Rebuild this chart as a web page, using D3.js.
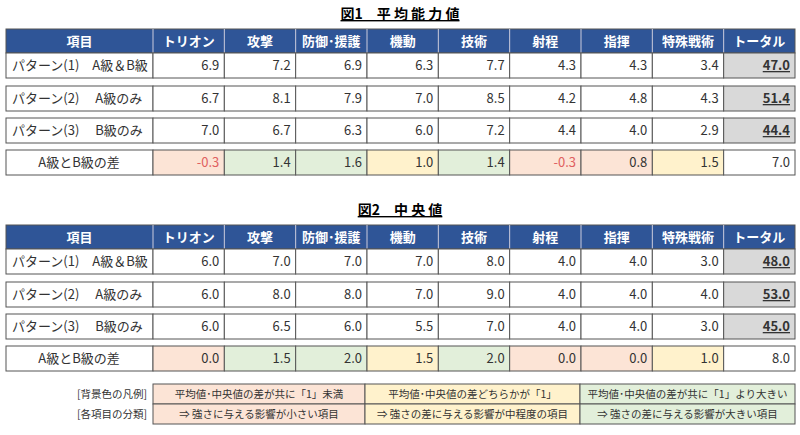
<!DOCTYPE html><html><head><meta charset="utf-8"><script src="https://cdn.jsdelivr.net/npm/d3@7"></script>
<style>body{margin:0;background:#fff}text{font-family:"Noto Sans CJK JP",sans-serif}</style></head><body><svg id="c" width="800" height="435"></svg>
<script>
const headers=["項目","トリオン","攻撃","防御･援護","機動","技術","射程","指揮","特殊戦術","トータル"];
const rowLabels=["パターン(1)　A級＆B級","パターン(2)　 A級のみ","パターン(3)　 B級のみ","A級とB級の差"];
const mean1=[6.9,7.2,6.9,6.3,7.7,4.3,4.3,3.4,47.0];
const mean2=[6.7,8.1,7.9,7.0,8.5,4.2,4.8,4.3,51.4];
const mean3=[7.0,6.7,6.3,6.0,7.2,4.4,4.0,2.9,44.4];
const meanD=[-0.3,1.4,1.6,1.0,1.4,-0.3,0.8,1.5,7.0];
const med1=[6.0,7.0,7.0,7.0,8.0,4.0,4.0,3.0,48.0];
const med2=[6.0,8.0,8.0,7.0,9.0,4.0,4.0,4.0,53.0];
const med3=[6.0,6.5,6.0,5.5,7.0,4.0,4.0,3.0,45.0];
const medD=[0.0,1.5,2.0,1.5,2.0,0.0,0.0,1.0,8.0];
const colClass=["p","g","g","y","g","p","p","y",null];
const legendLabels=["[背景色の凡例]","[各項目の分類]"];
const legend1=["平均値･中央値の差が共に「1」未満","平均値･中央値の差どちらかが「1」","平均値･中央値の差が共に「1」より大きい"];
const legend2=["⇒ 強さに与える影響が小さい項目","⇒ 強さの差に与える影響が中程度の項目","⇒ 強さの差に与える影響が大きい項目"];
const fills={p:"#FCE4D6",y:"#FFF2CC",g:"#E2EFDA"};
const svg=d3.select("#c");
const x=d3.scaleLinear().domain([0,9]).range([153,795]);
const border="#555";
function table(title,ty,top,rows){
  svg.append("text").attr("x",400).attr("y",ty).attr("text-anchor","middle").attr("font-size",14).attr("font-weight","bold").attr("text-decoration","underline").text(title);
  // header
  const h=24;
  svg.append("rect").attr("x",6).attr("y",top).attr("width",789).attr("height",h).attr("fill","#2F5597").attr("stroke",border);
  headers.forEach((t,i)=>{
    const x0=i==0?6:x(i-1), x1=i==0?153:x(i);
    if(i>0) svg.append("line").attr("x1",x0).attr("x2",x0).attr("y1",top).attr("y2",top+h).attr("stroke","#ccd");
    svg.append("text").attr("x",(x0+x1)/2).attr("y",top+17).attr("text-anchor","middle").attr("fill","#fff").attr("font-size",13).attr("font-weight","bold").text(t);
  });
  const offs=[h,h+33,h+65,h+97];
  rows.forEach((vals,r)=>{
    const y0=top+offs[r], rh=25;
    svg.append("rect").attr("x",6).attr("y",y0).attr("width",147).attr("height",rh).attr("fill","#fff").attr("stroke",border);
    svg.append("text").attr("x",r==3?79:12).attr("y",y0+17).attr("text-anchor",r==3?"middle":"start").attr("font-size",13).attr("fill","#333").text(rowLabels[r]);
    vals.forEach((v,i)=>{
      let f="#fff";
      if(i==8&&r<3) f="#D9D9D9";
      if(r==3&&colClass[i]) f=fills[colClass[i]];
      svg.append("rect").attr("x",x(i)).attr("y",y0).attr("width",x(i+1)-x(i)).attr("height",rh).attr("fill",f).attr("stroke",border);
      svg.append("text").attr("x",x(i+1)-5).attr("y",y0+17).attr("text-anchor","end").attr("font-size",13)
        .attr("fill",v<0?"#E06060":"#333").attr("font-weight",i==8&&r<3?"bold":"normal")
        .attr("text-decoration",i==8&&r<3?"underline":"none").text(v.toFixed(1));
    });
  });
}
table("図1　平 均 能 力 値",19,29,[mean1,mean2,mean3,meanD]);
table("図2　中 央 値",215,225,[med1,med2,med3,medD]);
const lx=[153,365,580,795], lc=["p","y","g"];
[legend1,legend2].forEach((arr,r)=>{
  const y0=384+r*20;
  svg.append("text").attr("x",147).attr("y",y0+14).attr("text-anchor","end").attr("font-size",10.5).attr("fill","#333").text(legendLabels[r]);
  arr.forEach((t,i)=>{
    svg.append("rect").attr("x",lx[i]).attr("y",y0).attr("width",lx[i+1]-lx[i]).attr("height",20).attr("fill",fills[lc[i]]).attr("stroke",border);
    svg.append("text").attr("x",(lx[i]+lx[i+1])/2).attr("y",y0+14).attr("text-anchor","middle").attr("font-size",10.5).attr("fill","#333").text(t);
  });
});
</script></body></html>
